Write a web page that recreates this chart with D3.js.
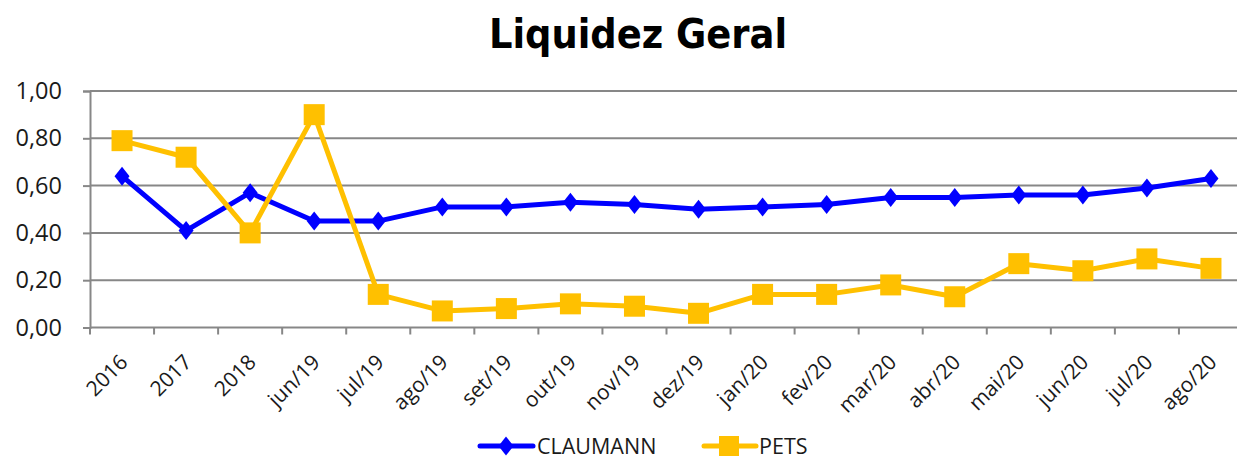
<!DOCTYPE html>
<html><head><meta charset="utf-8">
<script src="https://cdn.jsdelivr.net/npm/d3@7"></script>
<style>body{margin:0;background:#fff}svg{display:block}</style>
</head><body>
<svg id="c" width="1237" height="461"></svg>
<script>
const categories = ["2016","2017","2018","jun/19","jul/19","ago/19","set/19","out/19","nov/19","dez/19","jan/20","fev/20","mar/20","abr/20","mai/20","jun/20","jul/20","ago/20"];
const claumann = [0.64,0.41,0.57,0.45,0.45,0.51,0.51,0.53,0.52,0.50,0.51,0.52,0.55,0.55,0.56,0.56,0.59,0.63];
const pets = [0.79,0.72,0.40,0.90,0.14,0.07,0.08,0.10,0.09,0.06,0.14,0.14,0.18,0.13,0.27,0.24,0.29,0.25];
const yTicks = [0,0.2,0.4,0.6,0.8,1.0];
const title = "Liquidez Geral";
const seriesNames = ["CLAUMANN","PETS"];

(function(){
const svg = d3.select("#c");
const pl = 90, pr = 1243, pt = 91, pb = 327.5;
const x = d3.scaleBand().domain(categories).range([pl, pr]);
const y = d3.scaleLinear().domain([0,1]).range([pb, pt]);
const fmt = v => d3.format(".2f")(v).replace(".", ",");
const labelFont = "'Open Sans', 'Liberation Sans', sans-serif";
const grid = "#878787";

svg.append("text").attr("x", 638).attr("y", 48).attr("text-anchor","middle")
  .attr("font-family","'DejaVu Sans Condensed', 'DejaVu Sans', sans-serif").attr("font-weight","bold")
  .attr("font-size", 41).attr("fill","#000").text(title);

svg.append("g").selectAll("line").data(yTicks.filter(d=>d>0)).join("line")
  .attr("x1", pl).attr("x2", pr).attr("y1", d=>y(d)).attr("y2", d=>y(d))
  .attr("stroke",grid).attr("stroke-width",2);

const ya = svg.append("g").attr("transform",`translate(${pl},0)`)
  .call(d3.axisLeft(y).tickValues(yTicks).tickFormat(fmt).tickSize(7).tickPadding(21));
ya.select(".domain").attr("stroke",grid).attr("stroke-width",2);
ya.selectAll(".tick line").attr("stroke",grid).attr("stroke-width",2);
ya.selectAll("text").attr("font-family",labelFont).attr("font-size",23.5).attr("fill","#1a1a1a");

svg.append("line").attr("x1",pl).attr("x2",pr).attr("y1",pb).attr("y2",pb)
  .attr("stroke",grid).attr("stroke-width",2);
const bounds = categories.map(c=>x(c)).concat([pr]);
svg.append("g").selectAll("line").data(bounds).join("line")
  .attr("x1",d=>d).attr("x2",d=>d).attr("y1",pb).attr("y2",pb+7)
  .attr("stroke",grid).attr("stroke-width",2);
svg.append("g").selectAll("text").data(categories).join("text")
  .attr("transform", d=>`translate(${x(d)+x.bandwidth()/2+7},${pb+36}) rotate(-45)`)
  .attr("text-anchor","end")
  .attr("font-family",labelFont).attr("font-size",21).attr("fill","#1a1a1a").text(d=>d);

const cx = d => x(d)+x.bandwidth()/2;
const line = d3.line().x((v,i)=>cx(categories[i])).y(v=>y(v));
const diamond = "M0,-9.5L7.5,0L0,9.5L-7.5,0Z";

svg.append("path").datum(claumann).attr("d",line).attr("fill","none")
  .attr("stroke","#0000ff").attr("stroke-width",5).attr("stroke-linejoin","round");
svg.append("g").selectAll("path").data(claumann).join("path")
  .attr("d", diamond)
  .attr("transform",(v,i)=>`translate(${cx(categories[i])},${y(v)})`)
  .attr("fill","#0000ff");
svg.append("path").datum(pets).attr("d",line).attr("fill","none")
  .attr("stroke","#ffc000").attr("stroke-width",5).attr("stroke-linejoin","round");
svg.append("g").selectAll("rect").data(pets).join("rect")
  .attr("x",(v,i)=>cx(categories[i])-10.5).attr("y",v=>y(v)-10.5).attr("width",21).attr("height",21)
  .attr("fill","#ffc000");

const lg = svg.append("g");
const ly = 446;
lg.append("line").attr("x1",480).attr("x2",533).attr("y1",ly).attr("y2",ly).attr("stroke","#0000ff").attr("stroke-width",5).attr("stroke-linecap","round");
lg.append("path").attr("d", diamond).attr("transform",`translate(506,${ly})`).attr("fill","#0000ff");
lg.append("text").attr("x",537).attr("y",ly).attr("dy","0.35em").attr("font-family",labelFont).attr("font-size",21.5).attr("fill","#1a1a1a").text(seriesNames[0]);
lg.append("line").attr("x1",704).attr("x2",756).attr("y1",ly).attr("y2",ly).attr("stroke","#ffc000").attr("stroke-width",5).attr("stroke-linecap","round");
lg.append("rect").attr("x",719).attr("y",ly-10).attr("width",20).attr("height",20).attr("fill","#ffc000");
lg.append("text").attr("x",759).attr("y",ly).attr("dy","0.35em").attr("font-family",labelFont).attr("font-size",21.5).attr("fill","#1a1a1a").text(seriesNames[1]);
})();
</script>
</body></html>
